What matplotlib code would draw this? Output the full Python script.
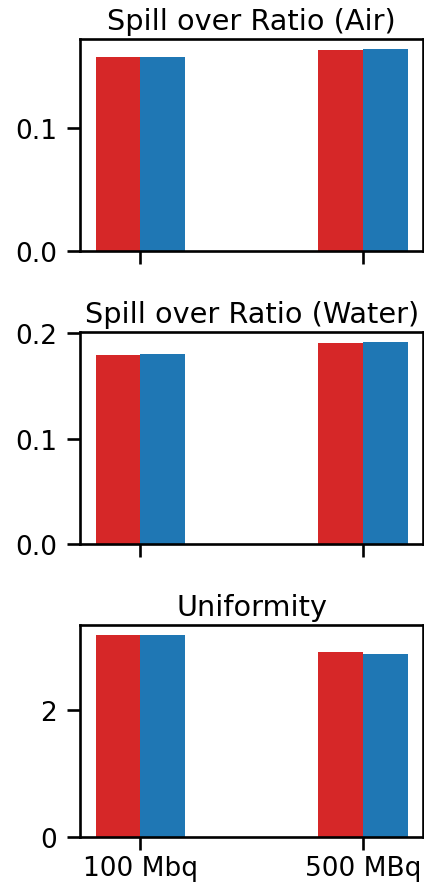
import numpy as np
import matplotlib
matplotlib.use("Agg")
import matplotlib.pyplot as plt
import seaborn as sns

sns.set_context("talk")
sns.set_style("ticks")
plt.rcParams.update({
    "text.color": "black",
    "axes.edgecolor": "black",
    "axes.labelcolor": "black",
    "xtick.color": "black",
    "ytick.color": "black",
    "axes.titlesize": 20.7,
    "xtick.labelsize": 19,
    "ytick.labelsize": 19,
    "axes.linewidth": 1.9,
    "xtick.major.width": 1.9,
    "ytick.major.width": 1.9,
    "xtick.major.size": 9.5,
    "ytick.major.size": 9.5,
    "ytick.major.pad": 7,
})

activities = ["100 Mbq", "500 MBq"]
titles = ["Spill over Ratio (Air)", "Spill over Ratio (Water)", "Uniformity"]

# red / blue series for each metric, one value per activity
sor_air_red = [0.1577, 0.1634]
sor_air_blue = [0.1577, 0.1642]
sor_water_red = [0.1790, 0.1905]
sor_water_blue = [0.1800, 0.1915]
uniformity_red = [3.176, 2.900]
uniformity_blue = [3.176, 2.878]

red_series = [sor_air_red, sor_water_red, uniformity_red]
blue_series = [sor_air_blue, sor_water_blue, uniformity_blue]

fig, axes = plt.subplots(3, 1, figsize=(4.24, 8.87), dpi=100, sharex=True)
fig.subplots_adjust(left=0.189, right=0.998, top=0.955, bottom=0.055, hspace=0.379)

x = np.arange(len(activities))
w = 0.2
for ax, title, red, blue in zip(axes, titles, red_series, blue_series):
    ax.bar(x - w / 2, red, width=w, color="#d62728", linewidth=0)
    ax.bar(x + w / 2, blue, width=w, color="#1f77b4", linewidth=0)
    ax.set_title(title, pad=7)

axes[0].set_yticks([0.0, 0.1])
axes[1].set_yticks([0.0, 0.1, 0.2])
axes[2].set_yticks([0, 2])
axes[2].set_xticks(x)
axes[2].set_xticklabels(activities)

fig.savefig("out.png", dpi=100)
